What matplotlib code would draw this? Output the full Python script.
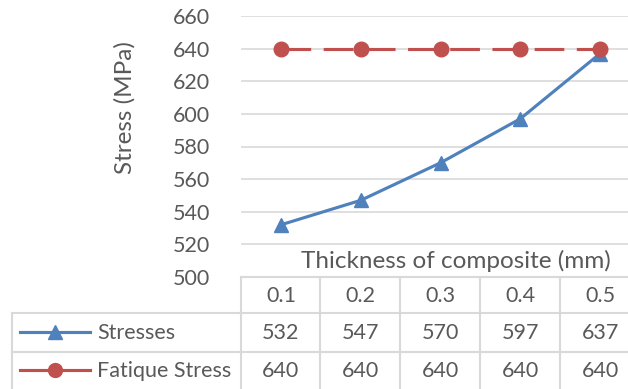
import matplotlib.pyplot as plt
import matplotlib.transforms as mtransforms

thickness = ['0.1', '0.2', '0.3', '0.4', '0.5']
stresses = [532, 547, 570, 597, 637]
fatigue = [640, 640, 640, 640, 640]
yticks = [500, 520, 540, 560, 580, 600, 620, 640, 660]

W, H = 628, 389
blue = '#4F81BD'
red = '#C0504D'
grid = '#D9D9D9'
txt = '#595959'
fs = 15.5   # ticks and table
fst = 17.5  # axis titles
plt.rcParams['font.family'] = ['Lato', 'DejaVu Sans']

fig = plt.figure(figsize=(W / 100, H / 100), dpi=100)
# plot area in pixels: x 241..640, y 16..277
ax = fig.add_axes([241 / W, 1 - 277 / H, (640 - 241) / W, (277 - 16) / H])
x = list(range(len(thickness)))
ax.plot(x, stresses, color=blue, lw=2.25, marker='^', ms=10.5, zorder=3)
ax.plot(x, fatigue, color=red, lw=2.25, ls=(0, (9.5, 4)), marker='o', ms=10.5, zorder=3)
ax.set_xlim(-0.5, 4.5)
ax.set_ylim(500, 660)
ax.set_yticks(yticks)
ax.set_xticks([])
ax.grid(axis='y', color=grid, lw=1.2)
ax.set_axisbelow(True)
for s in ax.spines.values():
    s.set_visible(False)
ax.tick_params(axis='y', length=0, labelsize=fs, labelcolor=txt, pad=22)

fig.text(125 / W, 1 - 108 / H, 'Stress (MPa)', rotation=90, ha='center', va='center',
         fontsize=fst, color=txt)
fig.text(456 / W, 1 - 261 / H, 'Thickness of composite (mm)', ha='center', va='center',
         fontsize=fst, color=txt)

# data table below the axis
tr = mtransforms.blended_transform_factory(ax.transData, fig.transFigure)
px = fig.transFigure


def fy(p):
    return 1 - p / H


def hline(x0, x1, y):
    fig.add_artist(plt.Line2D([x0 / W, x1 / W], [fy(y), fy(y)], color=grid, lw=1.5, transform=px))


def vline(xp, y0, y1):
    fig.add_artist(plt.Line2D([xp / W, xp / W], [fy(y0), fy(y1)], color=grid, lw=1.5, transform=px))


hline(241, 640, 277)
hline(12, 640, 313)
hline(12, 640, 352)
vline(12, 313, 395)
for xp in [241, 320, 400, 480, 560]:
    vline(xp, 277, 395)

for i, t in enumerate(thickness):
    fig.text(i, fy(296), t, transform=tr, ha='center', va='center', fontsize=fs, color=txt)
    fig.text(i, fy(333), str(stresses[i]), transform=tr, ha='center', va='center', fontsize=fs, color=txt)
    fig.text(i, fy(371), str(fatigue[i]), transform=tr, ha='center', va='center', fontsize=fs, color=txt)

fig.add_artist(plt.Line2D([20 / W, 90 / W], [fy(332), fy(332)], color=blue, lw=2.25, transform=px))
fig.add_artist(plt.Line2D([55 / W], [fy(332)], color=blue, marker='^', ms=10, transform=px))
fig.add_artist(plt.Line2D([20 / W, 90 / W], [fy(370), fy(370)], color=red, lw=2.25, transform=px))
fig.add_artist(plt.Line2D([55 / W], [fy(370)], color=red, marker='o', ms=10, transform=px))
fig.text(97 / W, fy(333), 'Stresses', ha='left', va='center', fontsize=fs, color=txt)
fig.text(97 / W, fy(371), 'Fatique Stress', ha='left', va='center', fontsize=fs, color=txt)

fig.savefig('out.png', dpi=100)
